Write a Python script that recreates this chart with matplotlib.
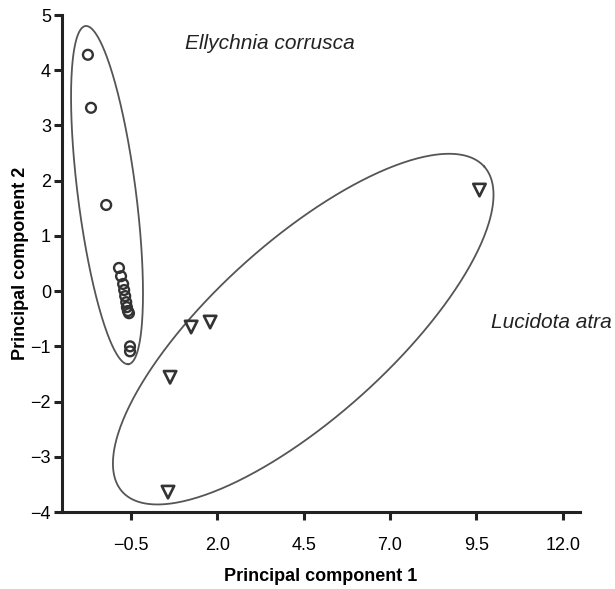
import numpy as np
import matplotlib.pyplot as plt

plt.rcParams['font.family'] = ['Liberation Sans', 'DejaVu Sans']

# PCA scores
ellychnia_pc1 = [-1.75, -1.66, -1.22, -0.85, -0.79, -0.73, -0.70, -0.67, -0.64,
                 -0.62, -0.59, -0.56, -0.53, -0.53]
ellychnia_pc2 = [4.28, 3.32, 1.56, 0.42, 0.27, 0.13, 0.02, -0.09, -0.20,
                 -0.29, -0.36, -0.40, -1.00, -1.09]
lucidota_pc1 = [1.24, 1.79, 0.63, 0.57, 9.59]
lucidota_pc2 = [-0.65, -0.56, -1.56, -3.64, 1.83]

# grouping ellipses: centre and two conjugate semi-axes (data units)
ell1_center = (-1.196, 1.739)
ell1_a = (0.623, -3.062)
ell1_b = (0.835, 0.066)
ell2_center = (4.486, -0.688)
ell2_a = (5.24, 2.945)
ell2_b = (1.707, -1.187)

xticks = [-0.5, 2.0, 4.5, 7.0, 9.5, 12.0]
yticks = [-4, -3, -2, -1, 0, 1, 2, 3, 4, 5]

fig = plt.figure(figsize=(6.15, 5.89), dpi=100)
ax = fig.add_axes([0.1008, 0.1307, 0.8422, 0.8438])


def draw_ellipse(c, a, b):
    t = np.linspace(0, 2 * np.pi, 400)
    x = c[0] + a[0] * np.cos(t) + b[0] * np.sin(t)
    y = c[1] + a[1] * np.cos(t) + b[1] * np.sin(t)
    ax.plot(x, y, color='#555555', lw=1.3, clip_on=False)


draw_ellipse(ell1_center, ell1_a, ell1_b)
draw_ellipse(ell2_center, ell2_a, ell2_b)

ax.scatter(ellychnia_pc1, ellychnia_pc2, s=50, marker='o', facecolors='none',
           edgecolors='#333333', linewidths=1.7, zorder=3)
ax.scatter(lucidota_pc1, lucidota_pc2, s=80, marker='v', facecolors='none',
           edgecolors='#333333', linewidths=1.9, zorder=3)

ax.text(1.07, 4.49, 'Ellychnia corrusca', fontsize=15, style='italic',
        va='center', ha='left', color='#222222')
ax.text(9.93, -0.56, 'Lucidota atra', fontsize=15, style='italic',
        va='center', ha='left', color='#222222')

ax.set_xlim(-2.5, 12.5)
ax.set_ylim(-4, 5)
ax.set_xticks(xticks)
ax.set_xticklabels(['\u2212%.1f' % -v if v < 0 else '%.1f' % v for v in xticks])
ax.set_yticks(yticks)

for side in ['top', 'right']:
    ax.spines[side].set_visible(False)
for side in ['left', 'bottom']:
    ax.spines[side].set_linewidth(2.2)
    ax.spines[side].set_color('#222222')
ax.tick_params(axis='both', direction='out', length=6, width=2.2,
               color='#222222', labelsize=13, pad=2)
ax.tick_params(axis='x', pad=12)

ax.set_xlabel('Principal component 1', fontsize=13, fontweight='bold', labelpad=10)
ax.set_ylabel('Principal component 2', fontsize=13, fontweight='bold', labelpad=1)

fig.savefig('out.png', dpi=100)
